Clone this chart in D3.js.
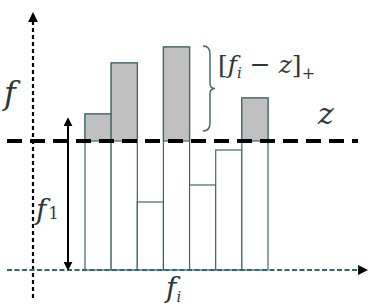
<!DOCTYPE html>
<html>
<head>
<meta charset="utf-8"/>
<script src="https://cdn.jsdelivr.net/npm/d3@7/dist/d3.min.js"></script>
<style>
  html, body { margin:0; padding:0; background:#fff; overflow:hidden; }
  svg { display:block; }
</style>
</head>
<body>
<svg width="370" height="308"></svg>
<script>
// bar categories and heights (in chart units, baseline = 0)
const items   = ["1","2","3","4","5","6","7"];
const fValues = [156, 207, 68, 223, 85, 120, 172];
const zLevel  = 129;

const svg = d3.select("svg");
const SERIF = "'DejaVu Serif', serif";
const ink = "#2b3838";

const x = d3.scaleBand().domain(items).range([85, 268]).padding(0);
const y = d3.scaleLinear().domain([0, 250]).range([270, 20]);

const edge = "#3d6666";

// arrow head
svg.append("defs").append("marker")
  .attr("id","tri").attr("viewBox","0 0 10 10")
  .attr("refX",8).attr("refY",5)
  .attr("markerWidth",4.5).attr("markerHeight",4.5)
  .attr("markerUnits","strokeWidth")
  .attr("orient","auto-start-reverse")
  .append("path").attr("d","M0,0L10,5L0,10z").attr("fill","#000");

// bars: white full bar, gray part above z
const bars = svg.append("g");
bars.selectAll("rect.base")
  .data(fValues)
  .join("rect")
    .attr("class","base")
    .attr("x", (d,i) => x(items[i]))
    .attr("width", x.bandwidth())
    .attr("y", d => y(d))
    .attr("height", d => y(0) - y(d))
    .attr("fill","#fff")
    .attr("stroke", edge).attr("stroke-width",1.2);

fValues.forEach((d,i) => {
  if (d <= zLevel) return;
  bars.append("rect")
    .attr("x", x(items[i]))
    .attr("width", x.bandwidth())
    .attr("y", y(d))
    .attr("height", y(zLevel) - y(d))
    .attr("fill","#c0c0c0")
    .attr("stroke", edge).attr("stroke-width",1.2);
});

// vertical axis (dotted)
svg.append("line")
  .attr("x1",33).attr("x2",33)
  .attr("y1",298).attr("y2",14)
  .attr("stroke","#000").attr("stroke-width",2.2)
  .attr("stroke-dasharray","4,3")
  .attr("marker-end","url(#tri)");

// horizontal axis (dashed teal)
svg.append("line")
  .attr("x1",7).attr("x2",366)
  .attr("y1",y(0)).attr("y2",y(0))
  .attr("stroke","#2e6a6a").attr("stroke-width",2.2)
  .attr("stroke-dasharray","5,2.5")
  .attr("marker-end","url(#tri)");

// z level
svg.append("line")
  .attr("x1",7).attr("x2",358)
  .attr("y1",y(zLevel)).attr("y2",y(zLevel))
  .attr("stroke","#000").attr("stroke-width",4)
  .attr("stroke-dasharray","15,8");

// f1 double arrow
svg.append("line")
  .attr("x1",68).attr("x2",68)
  .attr("y1",y(zLevel) - 22).attr("y2",y(0) - 1)
  .attr("stroke","#000").attr("stroke-width",2)
  .attr("marker-start","url(#tri)")
  .attr("marker-end","url(#tri)");

// brace
const bx = 203, bt = y(d3.max(fValues)) - 1, bb = y(zLevel) - 10, bm = (bt + bb) / 2;
svg.append("path")
  .attr("d", `M${bx},${bt} Q${bx+7},${bt} ${bx+7},${bt+8} L${bx+7},${bm-5} Q${bx+7},${bm} ${bx+12},${bm}` +
             ` Q${bx+7},${bm} ${bx+7},${bm+5} L${bx+7},${bb-8} Q${bx+7},${bb} ${bx},${bb}`)
  .attr("fill","none").attr("stroke", edge).attr("stroke-width",1.4);

// labels
function label(xp, yp, size) {
  return svg.append("text")
    .attr("x", xp).attr("y", yp)
    .attr("font-size", size)
    .attr("fill", ink)
    .style("font-family", SERIF);
}

label(4, 104, 32).attr("font-style","italic").text("f");

const f1 = label(36, 219, 28);
f1.append("tspan").attr("font-style","italic").text("f");
f1.append("tspan").attr("font-size",16).attr("dx",2).text("1");

const fi = label(166, 297, 28);
fi.append("tspan").attr("font-style","italic").text("f");
fi.append("tspan").attr("font-size",15).attr("font-style","italic").attr("dy",5).text("i");

const br = label(218, 73, 25);
br.append("tspan").text("[");
br.append("tspan").attr("font-style","italic").text("f");
br.append("tspan").attr("font-size",15).attr("font-style","italic").attr("dy",5).text("i");
br.append("tspan").attr("dy",-5).text(" − ");
br.append("tspan").attr("font-style","italic").text("z");
br.append("tspan").text("]");
br.append("tspan").attr("font-size",16).attr("dy",6).text("+");

label(318, 124, 30).attr("font-style","italic").text("z");
</script>
</body>
</html>
